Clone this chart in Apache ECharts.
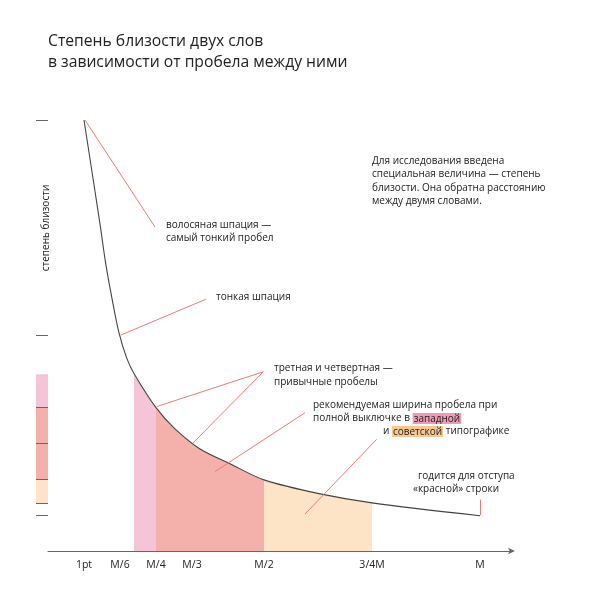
<!DOCTYPE html>
<html>
<head>
<meta charset="utf-8">
<script src="https://cdn.jsdelivr.net/npm/echarts@6/dist/echarts.min.js"></script>
<style>html,body{margin:0;padding:0;background:#fff}#c{width:600px;height:600px}</style>
</head>
<body>
<div id="c"></div>
<script>
// spacing as a fraction of the em (M), closeness
const spacing   = [0.0833, 0.1204, 0.1336, 0.1475, 0.1644, 0.1822, 0.2, 0.25, 0.294, 0.352, 0.421, 0.5, 0.63, 0.75, 1.0];
const closeness = [12.0, 9.1, 8.0, 7.07, 6.07, 5.37, 4.92, 3.99, 3.40, 2.84, 2.43, 1.98, 1.59, 1.34, 0.98];

const tickValues = [0.0833, 0.1667, 0.25, 0.3333, 0.5, 0.75, 1.0];
const tickLabels = ['1pt', 'M/6', 'M/4', 'M/3', 'M/2', '3/4M', 'M'];
const yTickValues = [12, 6, 4, 3, 2, 1.333, 1];

const bandFrom = [0.2, 0.25, 0.5];
const bandTo = [0.25, 0.5, 0.75];
const bandColors = ['#f5c5d7', '#f4b1ab', '#fde4c7'];
const sideBandTop = [4.92, 4, 2];
const sideBandBottom = [4, 2, 1.333];

// leader lines: [x1, y1, x2, y2] in data units
const leaders = [
  [0.0856, 12.0, 0.2477, 9.02],
  [0.1683, 6.01, 0.3657, 7.01],
  [0.4984, 4.99, 0.2516, 4.02],
  [0.4984, 4.99, 0.335, 3.0],
  [0.5949, 3.85, 0.3866, 2.21],
  [0.7609, 3.11, 0.5949, 1.03],
  [1.0, 1.43, 1.0, 1.0]
];

const curve = spacing.map((x, i) => [x, closeness[i]]);
const FONT = '"Open Sans", "Noto Sans", sans-serif';
const SMALL = 10;
const txt = (x, y, text, size, extra) => Object.assign({
  type: 'text', x: x, y: y, silent: true,
  style: Object.assign({text: text, fill: '#222', font: size + 'px ' + FONT, textVerticalAlign: 'middle'}, (extra || {}).style || {})
}, (extra || {}).el || {});

const chart = echarts.init(document.getElementById('c'), null, {renderer: 'canvas'});
chart.setOption({
  animation: false,
  backgroundColor: '#fff',
  grid: [
    {left: 48, top: 102, width: 464, height: 449},
    {left: 36, top: 102, width: 12, height: 449}
  ],
  xAxis: [
    {
      type: 'value', gridIndex: 0, min: 0, max: 1.074,
      splitLine: {show: false},
      axisTick: {show: false},
      axisLine: {show: true, lineStyle: {color: '#666', width: 1}, symbol: ['none', 'arrow'], symbolSize: [5, 7], symbolOffset: [0, 3]},
      axisLabel: {
        customValues: tickValues, margin: 9, color: '#222', fontSize: 10.5, fontFamily: FONT,
        formatter: v => { const i = tickValues.findIndex(t => Math.abs(t - v) < 1e-3); return i >= 0 ? tickLabels[i] : ''; }
      }
    },
    {type: 'value', gridIndex: 1, min: 0, max: 1, show: false}
  ],
  yAxis: [
    {
      type: 'value', gridIndex: 0, min: 0, max: 12.5, z: 10,
      splitLine: {show: false},
      axisLine: {show: false},
      axisLabel: {show: false},
      axisTick: {show: true, customValues: yTickValues, length: 12, inside: false, lineStyle: {color: '#666', width: 1}}
    },
    {type: 'value', gridIndex: 1, min: 0, max: 12.5, show: false}
  ],
  visualMap: {
    show: false, type: 'piecewise', seriesIndex: 0, dimension: 0,
    pieces: bandFrom.map((f, i) => ({gte: f, lt: bandTo[i] + (i === 2 ? 1e-6 : 0), color: bandColors[i]})),
    outOfRange: {color: 'rgba(255,255,255,0)'}
  },
  series: [
    {
      type: 'line', data: curve, xAxisIndex: 0, yAxisIndex: 0,
      smooth: 0.3, symbol: 'none', silent: true, z: 1,
      lineStyle: {width: 0, opacity: 0},
      areaStyle: {opacity: 1}
    },
    {
      type: 'line', data: curve, xAxisIndex: 0, yAxisIndex: 0,
      smooth: 0.3, symbol: 'none', silent: true, z: 3,
      lineStyle: {color: '#444', width: 1.1},
      markLine: {
        silent: true, symbol: ['none', 'none'], label: {show: false},
        lineStyle: {color: '#f27878', width: 1, type: 'solid'},
        emphasis: {disabled: true},
        data: leaders.map(l => [{coord: [l[0], l[1]]}, {coord: [l[2], l[3]]}])
      }
    },
    {
      type: 'line', data: [], xAxisIndex: 1, yAxisIndex: 1, symbol: 'none', silent: true, z: 1,
      markArea: {
        silent: true,
        data: sideBandTop.map((t, i) => [{xAxis: 0, yAxis: t, itemStyle: {color: bandColors[i], opacity: 1}}, {xAxis: 1, yAxis: sideBandBottom[i]}])
      }
    }
  ],
  graphic: [
    txt(48, 42, 'Степень близости двух слов', 15.7),
    txt(48, 63, 'в зависимости от пробела между ними', 15.7),
    txt(46, 228, 'степень близости', SMALL, {el: {rotation: Math.PI / 2}, style: {textAlign: 'center'}}),
    txt(372, 161, 'Для исследования введена', SMALL),
    txt(372, 174.5, 'специальная величина — степень', SMALL),
    txt(372, 188, 'близости. Она обратна расстоянию', SMALL),
    txt(372, 201.5, 'между двумя словами.', SMALL),
    txt(166, 225, 'волосяная шпация —', SMALL),
    txt(166, 238, 'самый тонкий пробел', SMALL),
    txt(216, 297, 'тонкая шпация', SMALL),
    txt(274, 368.5, 'третная и четвертная —', SMALL),
    txt(274, 382, 'привычные пробелы', SMALL),
    txt(313, 405, 'рекомендуемая ширина пробела при', SMALL),
    txt(313, 418.5, 'полной выключке в {a|западной}', SMALL, {style: {rich: {a: {backgroundColor: '#ee9bb9', padding: [1, 1, 0, 1], fontSize: SMALL, fontFamily: FONT}}}}),
    txt(383, 431.5, 'и {b|советской} типографике', SMALL, {style: {rich: {b: {backgroundColor: '#f9c890', padding: [1, 1, 0, 1], fontSize: SMALL, fontFamily: FONT}}}}),
    txt(418, 476, 'годится для отступа', SMALL),
    txt(413, 489.5, '«красной» строки', SMALL)
  ]
});
</script>
</body>
</html>
